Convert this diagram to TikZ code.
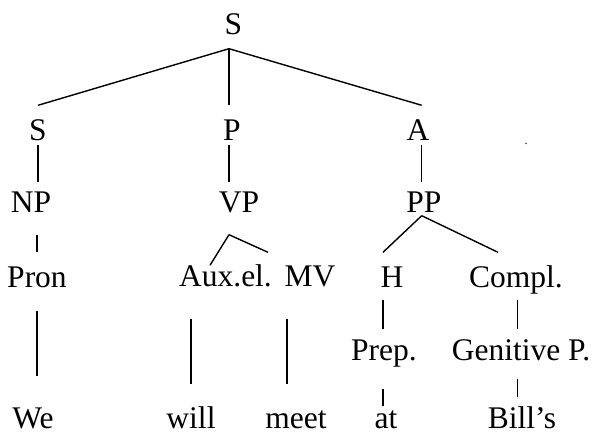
\documentclass[tikz,border=0pt]{standalone}
\usepackage{fontspec}
\setmainfont{Liberation Serif}
\usepackage{tikz}

\begin{document}
\begin{tikzpicture}[x=1pt, y=-1pt, line width=1.4pt,
    every node/.style={inner sep=0pt, anchor=base, text height=20pt, text depth=0pt,
                       font=\fontsize{31.5}{38}\selectfont}]
  \useasboundingbox (0,0) rectangle (595,436);

  \node (root) at (233.5,35) {S};
  \node (s2) at (38,140) {S};
  \node (p) at (232,140) {P};
  \node (a) at (418,140) {A};
  \node[font=\fontsize{12}{14}\selectfont] (dot) at (526,144) {.};
  \node (np) at (31,212) {NP};
  \node (vp) at (239,212) {VP};
  \node (pp) at (424,212) {PP};
  \node (pron) at (37,287) {Pron};
  \node (aux) at (225.5,286) {Aux.el.};
  \node (mv) at (310,286) {MV};
  \node (h) at (392,287) {H};
  \node (compl) at (516,287) {Compl.};
  \node (prep) at (384,360) {Prep.};
  \node (gen) at (521,360) {Genitive P.};
  \node (we) at (33,428.5) {We};
  \node (will) at (191,428) {will};
  \node (meet) at (296,428) {meet};
  \node (atw) at (386,428) {at};
  \node (bills) at (522,428) {Bill’s};

  \coordinate (rj) at ([xshift=-4.5pt,yshift=-13pt]root.south);
  \coordinate (vj) at ([xshift=-10pt,yshift=-22pt]vp.south);
  \coordinate (pj) at ([xshift=-2.3pt,yshift=-3pt]pp.south);

  \draw (rj) -- ([yshift=14pt]s2.north);
  \draw (rj) -- ([xshift=-3pt,yshift=14pt]p.north);
  \draw (rj) -- ([xshift=3.7pt,yshift=14pt]a.north);

  \draw[shorten <=4pt, shorten >=9pt] (s2.south) -- (s2.south |- np.north);
  \draw[shorten <=4pt, shorten >=9pt] (rj |- p.south) -- (rj |- vp.north);
  \draw[shorten <=4pt, shorten >=9pt] ([xshift=3.7pt]a.south) -- ([xshift=-2.3pt]pp.north);

  \draw[shorten <=22pt, shorten >=14pt] (pron.north |- np.south) -- (pron.north);
  \draw (vj) -- ([xshift=-15.5pt]aux.north);
  \draw (vj) -- ([xshift=-42pt,yshift=13pt]mv.north);
  \draw (pj) -- ([xshift=-9pt,yshift=14pt]h.north);
  \draw (pj) -- ([xshift=-18pt,yshift=14pt]compl.north);

  \draw[shorten <=12pt, shorten >=10pt] ([xshift=-9pt]h.south) -- ([xshift=-1pt]prep.north);
  \draw[shorten <=12pt, shorten >=10pt] ([xshift=1.7pt]compl.south) -- ([xshift=-3.3pt]gen.north);

  \draw[shorten <=23pt, shorten >=32pt] (pron.south) -- (pron.south |- we.north);
  \draw[shorten <=32pt, shorten >=23pt] (will.north |- aux.south) -- (will.north);
  \draw[shorten <=32pt, shorten >=23pt] ([xshift=-23pt]mv.south) -- ([xshift=-9pt]meet.north);

  \draw[shorten <=28pt, shorten >=1pt] ([xshift=-1pt]prep.south) -- ([xshift=-3pt]atw.north);
  \draw[shorten <=18pt, shorten >=10pt] ([xshift=-3.3pt]gen.south) -- ([xshift=-4.3pt]bills.north);
\end{tikzpicture}
\end{document}
